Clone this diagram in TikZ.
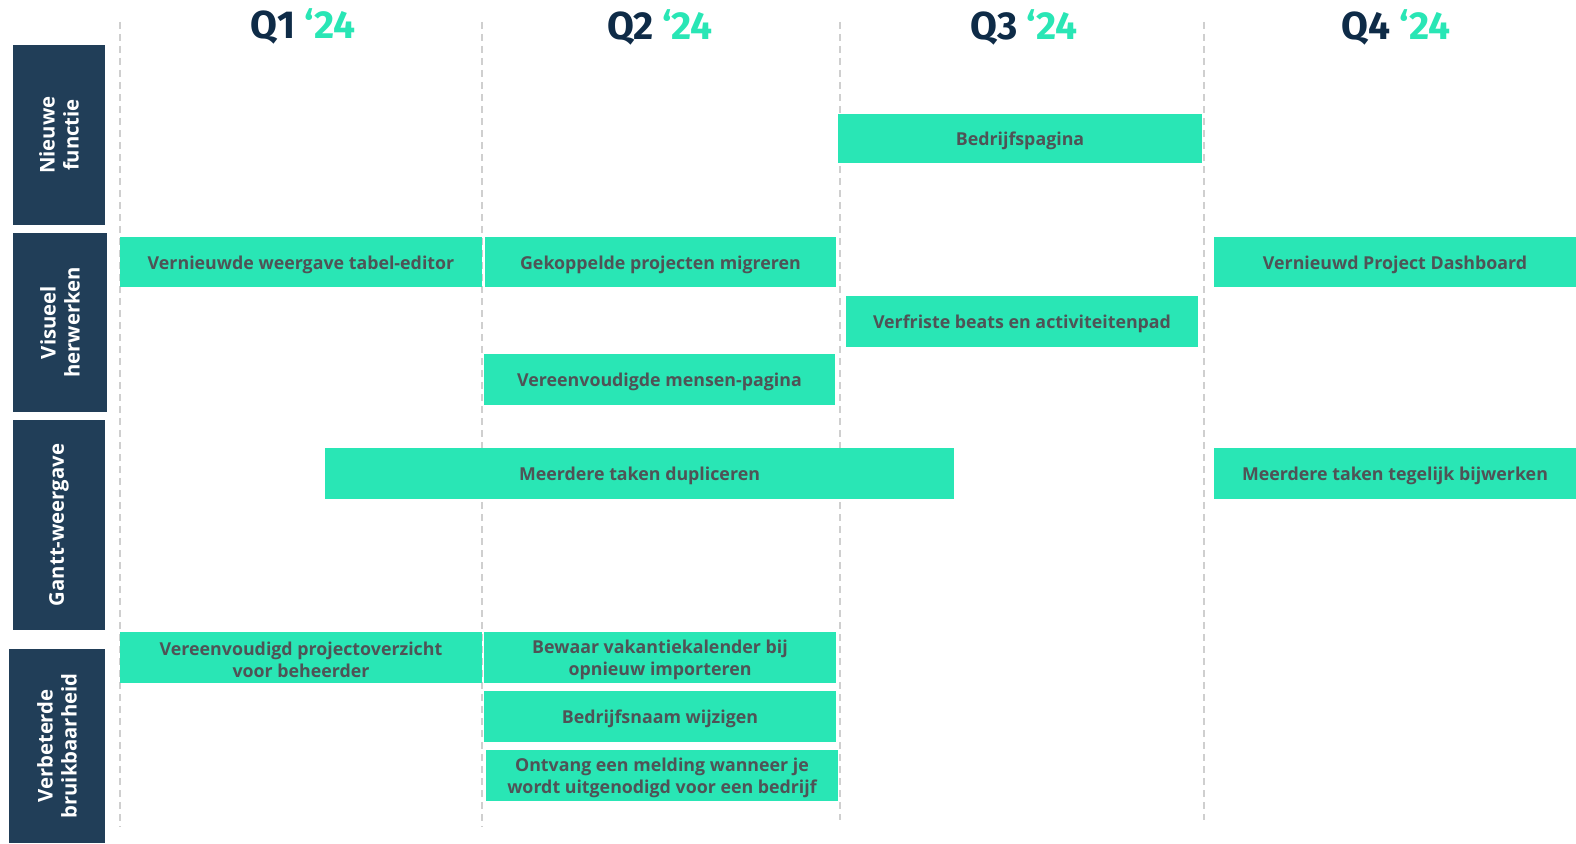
\documentclass[tikz,border=0pt]{standalone}
\usepackage{fontspec}
\setmainfont{Open Sans}
\newfontfamily\headfont{Fira Sans}
\definecolor{navybox}{HTML}{213E58}
\definecolor{navyhead}{HTML}{0E2B47}
\definecolor{mint}{HTML}{29E6B5}
\definecolor{gridgray}{HTML}{CFCFCF}
\definecolor{bartext}{HTML}{4F5356}
\newcommand{\gbar}[6]{%
  \pgfmathsetmacro{\bw}{#4-#2}\pgfmathsetmacro{\bh}{#5-#3}%
  \pgfmathsetmacro{\bx}{(#4+#2)/2}\pgfmathsetmacro{\by}{(#5+#3)/2}%
  \node[barbox, minimum width=\bw pt, minimum height=\bh pt] (#1) at (\bx,\by) {};
  \node[bartxt] (#1t) at ([yshift=-2.5pt]#1.center) {#6};}
\newcommand{\glab}[6]{%
  \pgfmathsetmacro{\bw}{#4-#2}\pgfmathsetmacro{\bh}{#5-#3}%
  \pgfmathsetmacro{\bx}{(#4+#2)/2}\pgfmathsetmacro{\by}{(#5+#3)/2}%
  \node[labbox, minimum width=\bw pt, minimum height=\bh pt] (#1) at (\bx,\by) {};
  \node[labtext, rotate=90] (#1t) at (#1.center) {#6};}
\begin{document}
\begin{tikzpicture}[x=1pt,y=-1pt,
  labbox/.style={fill=navybox, inner sep=0pt, draw=none},
  labtext/.style={text=white, font=\bfseries\fontsize{20.3}{24}\selectfont, align=center, inner sep=0pt},
  barbox/.style={fill=mint, inner sep=0pt, draw=none},
  bartxt/.style={text=bartext, font=\bfseries\fontsize{17.8}{21.5}\selectfont, align=center, inner sep=0pt},
  gridline/.style={draw=gridgray, line width=1.8pt, dash pattern=on 7pt off 5pt},
  head/.style={font=\headfont\bfseries\fontsize{39}{42}\selectfont, anchor=base, inner sep=0pt}]
\useasboundingbox (0,0) rectangle (1576,843);
% grid lines
\coordinate (g1t) at (120,22); \coordinate (g1b) at (120,827);
\coordinate (g2t) at (482,22); \coordinate (g2b) at (482,827);
\coordinate (g3t) at (840,22); \coordinate (g3b) at (840,820);
\coordinate (g4t) at (1204,22); \coordinate (g4b) at (1204,820);
\draw[gridline] (g1t) -- (g1b);
\draw[gridline] (g2t) -- (g2b);
\draw[gridline] (g3t) -- (g3b);
\draw[gridline] (g4t) -- (g4b);
% headers
\node[head] (q1) at (303,38) {\textcolor{navyhead}{Q1} \textcolor{mint}{‘24}};
\node[head] (q2) at (660,40) {\textcolor{navyhead}{Q2} \textcolor{mint}{‘24}};
\node[head] (q3) at (1024,40) {\textcolor{navyhead}{Q3} \textcolor{mint}{‘24}};
\node[head] (q4) at (1396,40) {\textcolor{navyhead}{Q4} \textcolor{mint}{‘24}};
% row labels
\glab{l1}{13}{45}{105}{225}{Nieuwe\\functie}
\glab{l2}{13}{233}{107}{412}{Visueel\\herwerken}
\glab{l3}{13}{420}{105}{630}{Gantt-weergave}
\glab{l4}{9}{649}{105}{843}{Verbeterde\\bruikbaarheid}
% bars
\gbar{b1}{838}{114}{1202}{163}{Bedrijfspagina}
\gbar{b2}{120}{237}{482}{287}{Vernieuwde weergave tabel-editor}
\gbar{b3}{485}{237}{836}{287}{Gekoppelde projecten migreren}
\gbar{b4}{1214}{237}{1576}{287}{Vernieuwd Project Dashboard}
\gbar{b5}{846}{296}{1198}{347}{Verfriste beats en activiteitenpad}
\gbar{b6}{484}{354}{835}{405}{Vereenvoudigde mensen-pagina}
\gbar{b7}{325}{448}{954}{499}{Meerdere taken dupliceren}
\gbar{b8}{1214}{448}{1576}{499}{Meerdere taken tegelijk bijwerken}
\gbar{b9}{120}{632}{482}{683}{Vereenvoudigd projectoverzicht\\voor beheerder}
\gbar{b10}{484}{632}{836}{683}{Bewaar vakantiekalender bij\\opnieuw importeren}
\gbar{b11}{484}{691}{836}{742}{Bedrijfsnaam wijzigen}
\gbar{b12}{486}{750}{838}{801}{Ontvang een melding wanneer je\\wordt uitgenodigd voor een bedrijf}
\end{tikzpicture}
\end{document}
